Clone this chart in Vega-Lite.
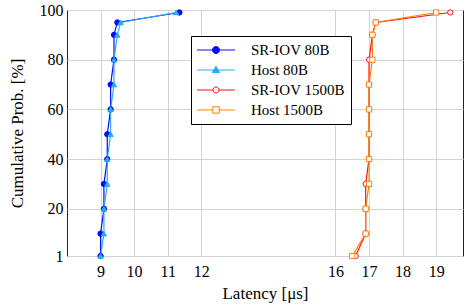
{
  "$schema": "https://vega.github.io/schema/vega-lite/v6.json",
  "autosize": {"type": "none"},
  "padding": {"left": 67, "top": 10, "right": 6, "bottom": 51},
  "width": 396,
  "height": 246,
  "config": {
    "font": "Liberation Serif",
    "view": {"stroke": "#222", "strokeWidth": 1},
    "axis": {"labelFont": "Liberation Serif", "titleFont": "Liberation Serif", "labelFontSize": 16, "titleFontSize": 17, "titleFontWeight": "normal", "labelColor": "#000", "titleColor": "#000", "grid": true, "gridColor": "#d4d4d4", "gridWidth": 1, "domain": false, "ticks": false}
  },
  "data": {"values": [
    {"series": "SR-IOV 80B", "latency": 9.0, "prob": 1},
    {"series": "SR-IOV 80B", "latency": 9.0, "prob": 10},
    {"series": "SR-IOV 80B", "latency": 9.1, "prob": 20},
    {"series": "SR-IOV 80B", "latency": 9.1, "prob": 30},
    {"series": "SR-IOV 80B", "latency": 9.2, "prob": 40},
    {"series": "SR-IOV 80B", "latency": 9.2, "prob": 50},
    {"series": "SR-IOV 80B", "latency": 9.3, "prob": 60},
    {"series": "SR-IOV 80B", "latency": 9.3, "prob": 70},
    {"series": "SR-IOV 80B", "latency": 9.4, "prob": 80},
    {"series": "SR-IOV 80B", "latency": 9.4, "prob": 90},
    {"series": "SR-IOV 80B", "latency": 9.5, "prob": 95},
    {"series": "SR-IOV 80B", "latency": 11.35, "prob": 99},
    {"series": "Host 80B", "latency": 9.0, "prob": 1},
    {"series": "Host 80B", "latency": 9.1, "prob": 10},
    {"series": "Host 80B", "latency": 9.1, "prob": 20},
    {"series": "Host 80B", "latency": 9.2, "prob": 30},
    {"series": "Host 80B", "latency": 9.2, "prob": 40},
    {"series": "Host 80B", "latency": 9.3, "prob": 50},
    {"series": "Host 80B", "latency": 9.3, "prob": 60},
    {"series": "Host 80B", "latency": 9.4, "prob": 70},
    {"series": "Host 80B", "latency": 9.4, "prob": 80},
    {"series": "Host 80B", "latency": 9.5, "prob": 90},
    {"series": "Host 80B", "latency": 9.6, "prob": 95},
    {"series": "Host 80B", "latency": 11.25, "prob": 99},
    {"series": "SR-IOV 1500B", "latency": 16.6, "prob": 1},
    {"series": "SR-IOV 1500B", "latency": 16.9, "prob": 10},
    {"series": "SR-IOV 1500B", "latency": 16.9, "prob": 20},
    {"series": "SR-IOV 1500B", "latency": 16.9, "prob": 30},
    {"series": "SR-IOV 1500B", "latency": 17.0, "prob": 40},
    {"series": "SR-IOV 1500B", "latency": 17.0, "prob": 50},
    {"series": "SR-IOV 1500B", "latency": 17.0, "prob": 60},
    {"series": "SR-IOV 1500B", "latency": 17.0, "prob": 70},
    {"series": "SR-IOV 1500B", "latency": 17.0, "prob": 80},
    {"series": "SR-IOV 1500B", "latency": 17.1, "prob": 90},
    {"series": "SR-IOV 1500B", "latency": 17.2, "prob": 95},
    {"series": "SR-IOV 1500B", "latency": 19.42, "prob": 99},
    {"series": "Host 1500B", "latency": 16.5, "prob": 1},
    {"series": "Host 1500B", "latency": 16.9, "prob": 10},
    {"series": "Host 1500B", "latency": 16.9, "prob": 20},
    {"series": "Host 1500B", "latency": 17.0, "prob": 30},
    {"series": "Host 1500B", "latency": 17.0, "prob": 40},
    {"series": "Host 1500B", "latency": 17.0, "prob": 50},
    {"series": "Host 1500B", "latency": 17.0, "prob": 60},
    {"series": "Host 1500B", "latency": 17.0, "prob": 70},
    {"series": "Host 1500B", "latency": 17.1, "prob": 80},
    {"series": "Host 1500B", "latency": 17.1, "prob": 90},
    {"series": "Host 1500B", "latency": 17.2, "prob": 95},
    {"series": "Host 1500B", "latency": 19.0, "prob": 99}
  ]},
  "encoding": {
    "x": {"field": "latency", "type": "quantitative", "scale": {"domain": [8, 19.8], "nice": false, "zero": false}, "axis": {"values": [9, 10, 11, 12, 16, 17, 18, 19], "title": "Latency [μs]", "labelFont": "Liberation Serif", "titleFont": "Liberation Serif", "labelPadding": 7, "titlePadding": 6, "labelFlush": false}},
    "y": {"field": "prob", "type": "quantitative", "scale": {"domain": [1, 100], "nice": false, "zero": false}, "axis": {"values": [1, 20, 40, 60, 80, 100], "title": "Cumulative Prob. [%]", "labelFont": "Liberation Serif", "titleFont": "Liberation Serif", "labelPadding": 4, "titlePadding": 13, "labelFlush": false}}
  },
  "layer": [
    {
      "mark": {"type": "line", "strokeWidth": 1.2},
      "encoding": {
        "stroke": {"field": "series", "type": "nominal", "scale": {"domain": ["SR-IOV 80B", "Host 80B", "SR-IOV 1500B", "Host 1500B"], "range": ["#0a0aff", "#22b0f0", "#ff1010", "#ff8000"]}, "legend": null},
        "detail": {"field": "series"},
        "order": {"field": "prob"}
      }
    },
    {
      "mark": {"type": "point", "filled": false, "size": 28, "strokeWidth": 1, "opacity": 1},
      "encoding": {
        "stroke": {"field": "series", "type": "nominal", "scale": {"domain": ["SR-IOV 80B", "Host 80B", "SR-IOV 1500B", "Host 1500B"], "range": ["#0a0aff", "#22b0f0", "#ff1010", "#ff8000"]}, "legend": null},
        "fill": {"field": "series", "type": "nominal", "scale": {"domain": ["SR-IOV 80B", "Host 80B", "SR-IOV 1500B", "Host 1500B"], "range": ["#0a0aff", "#22b0f0", "#ffffff", "#ffffff"]}, "legend": null},
        "shape": {"field": "series", "type": "nominal", "scale": {"domain": ["SR-IOV 80B", "Host 80B", "SR-IOV 1500B", "Host 1500B"], "range": ["circle", "triangle-up", "circle", "square"]}, "legend": null}
      }
    },
    {
      "transform": [{"filter": "datum.prob < 0"}],
      "mark": {"type": "point", "filled": false, "strokeWidth": 1},
      "encoding": {
        "stroke": {"field": "series", "type": "nominal", "scale": {"domain": ["SR-IOV 80B", "Host 80B", "SR-IOV 1500B", "Host 1500B"], "range": ["#0a0aff", "#22b0f0", "#ff1010", "#ff8000"]},
          "legend": {"title": null, "orient": "none", "legendX": 124, "legendY": 26, "labelFont": "Liberation Serif", "labelFontSize": 15, "labelColor": "#000", "strokeColor": "#000", "fillColor": "#fff", "padding": 6, "cornerRadius": 0, "symbolSize": 225, "symbolStrokeWidth": 1, "symbolOffset": 11, "labelOffset": 27, "rowPadding": 4, "symbolOpacity": 1}},
        "fill": {"field": "series", "type": "nominal", "scale": {"domain": ["SR-IOV 80B", "Host 80B", "SR-IOV 1500B", "Host 1500B"], "range": ["#0a0aff", "#22b0f0", "#ffffff", "#ffffff"]},
          "legend": {"title": null, "orient": "none", "legendX": 124, "legendY": 26, "labelFont": "Liberation Serif", "labelFontSize": 15, "labelColor": "#000", "strokeColor": "#000", "fillColor": "#fff", "padding": 6, "cornerRadius": 0, "symbolSize": 225, "symbolStrokeWidth": 1, "symbolOffset": 11, "labelOffset": 27, "rowPadding": 4, "symbolOpacity": 1}},
        "shape": {"field": "series", "type": "nominal", "scale": {"domain": ["SR-IOV 80B", "Host 80B", "SR-IOV 1500B", "Host 1500B"], "range": [
            "M-2.53,0H-0.47M0.47,0H2.53M0.47,0A0.47,0.47,0,1,1,-0.47,0A0.47,0.47,0,1,1,0.47,0",
            "M-2.53,0H-0.3M0.3,0H2.53M0,-0.5L0.49,0.33L-0.49,0.33Z",
            "M-2.53,0H-0.4M0.4,0H2.53M0.4,0A0.4,0.4,0,1,1,-0.4,0A0.4,0.4,0,1,1,0.4,0",
            "M-2.53,0H-0.43M0.43,0H2.53M-0.43,-0.43H0.43V0.43H-0.43Z"]},
          "legend": {"title": null, "orient": "none", "legendX": 124, "legendY": 26, "labelFont": "Liberation Serif", "labelFontSize": 15, "labelColor": "#000", "strokeColor": "#000", "fillColor": "#fff", "padding": 6, "cornerRadius": 0, "symbolSize": 225, "symbolStrokeWidth": 1, "symbolOffset": 11, "labelOffset": 27, "rowPadding": 4, "symbolOpacity": 1}}
      }
    }
  ],
  "resolve": {"scale": {"stroke": "independent", "fill": "independent", "shape": "independent"}}
}
